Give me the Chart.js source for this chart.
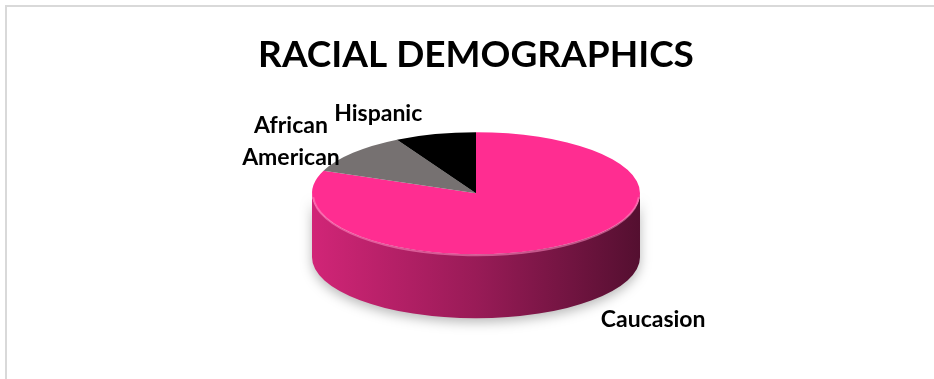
<!DOCTYPE html>
<html>
<head>
<meta charset="utf-8">
<script src="https://cdn.jsdelivr.net/npm/chart.js@4.4.1/dist/chart.umd.min.js"></script>
<style>
  html, body { margin: 0; padding: 0; background: #fff; overflow: hidden; }
  #frame { position: absolute; left: 5px; top: 5px; width: 960px; height: 400px;
           border-left: 2px solid #d9d9d9; border-top: 2px solid #d9d9d9; }
  #chart { position: absolute; left: 0; top: 0; }
</style>
</head>
<body>
<div id="frame"></div>
<canvas id="chart" width="952" height="379"></canvas>
<script>
const races = ['Caucasion', 'African American', 'Hispanic'];
const shares = [81, 11, 8];
const sliceColors = ['#ff2d91', '#767171', '#000000'];
const chartTitle = 'RACIAL DEMOGRAPHICS';

const tilt = 0.372;   // how flat the pie looks
const depth = 64;     // thickness of the rim in px
const labelNudge = [[85, 76], [-62, -11], [-57, -21]];

function shade(hex, f) {
  const n = parseInt(hex.slice(1), 16);
  const r = Math.round(((n >> 16) & 255) * f);
  const g = Math.round(((n >> 8) & 255) * f);
  const b = Math.round((n & 255) * f);
  return `rgb(${r},${g},${b})`;
}

const pie3d = {
  id: 'pie3d',
  beforeDatasetsDraw(chart) {
    const ctx = chart.ctx;
    const arcs = chart.getDatasetMeta(0).data;
    const { x, y, outerRadius } = arcs[0];
    const rx = outerRadius, ry = outerRadius * tilt;

    // rim: only the front half (0..PI) can be seen
    ctx.save();
    ctx.shadowColor = 'rgba(0,0,0,0.28)';
    ctx.shadowBlur = 12;
    ctx.shadowOffsetY = 4;
    arcs.forEach((arc, i) => {
      for (let k = -1; k <= 1; k++) {
        const lo = Math.max(arc.startAngle, 2 * Math.PI * k);
        const hi = Math.min(arc.endAngle, Math.PI + 2 * Math.PI * k);
        if (hi <= lo) continue;
        const a1 = lo - 2 * Math.PI * k, a2 = hi - 2 * Math.PI * k;
        const c = sliceColors[i];
        const grad = ctx.createLinearGradient(x - rx, 0, x + rx, 0);
        grad.addColorStop(0, shade(c, 0.82));
        grad.addColorStop(0.5, shade(c, 0.6));
        grad.addColorStop(1, shade(c, 0.33));
        ctx.beginPath();
        ctx.ellipse(x, y, rx, ry, 0, a1, a2);
        ctx.ellipse(x, y + depth, rx, ry, 0, a2, a1, true);
        ctx.closePath();
        ctx.fillStyle = grad;
        ctx.fill();
      }
    });
    ctx.restore();

    // squash the top face
    ctx.save();
    ctx.translate(0, y);
    ctx.scale(1, tilt);
    ctx.translate(0, -y);
  },
  afterDatasetsDraw(chart) {
    const ctx = chart.ctx;
    ctx.restore();
    const arcs = chart.getDatasetMeta(0).data;
    const { x, y, outerRadius } = arcs[0];
    const rx = outerRadius, ry = outerRadius * tilt;

    // light edge along the front of the top face
    ctx.save();
    ctx.beginPath();
    ctx.ellipse(x, y + 1, rx - 1, ry, 0, 0.05, Math.PI - 0.05);
    ctx.strokeStyle = 'rgba(255,140,195,0.55)';
    ctx.lineWidth = 2;
    ctx.stroke();
    ctx.restore();

    // labels
    ctx.save();
    ctx.fillStyle = '#000';
    ctx.font = 'bold 23px Lato';
    ctx.textAlign = 'center';
    ctx.textBaseline = 'middle';
    arcs.forEach((arc, i) => {
      const mid = (arc.startAngle + arc.endAngle) / 2;
      const px = x + rx * Math.cos(mid) + labelNudge[i][0];
      const py = y + ry * Math.sin(mid) + labelNudge[i][1];
      const lines = races[i].split(' ');
      const lh = 32;
      lines.forEach((t, j) => {
        ctx.fillText(t, px, py + (j - (lines.length - 1) / 2) * lh);
      });
    });
    ctx.restore();
  }
};

new Chart(document.getElementById('chart'), {
  type: 'pie',
  data: {
    labels: races,
    datasets: [{ data: shares, backgroundColor: sliceColors, borderWidth: 0 }]
  },
  options: {
    responsive: false,
    animation: false,
    events: [],
    radius: 164,
    layout: { padding: { bottom: 71 } },
    plugins: {
      legend: { display: false },
      tooltip: { enabled: false },
      title: {
        display: true,
        text: chartTitle,
        color: '#000',
        font: { family: 'Lato', size: 37, weight: 'bold' },
        padding: { top: 33, bottom: 1 }
      }
    }
  },
  plugins: [pie3d]
});
</script>
</body>
</html>
